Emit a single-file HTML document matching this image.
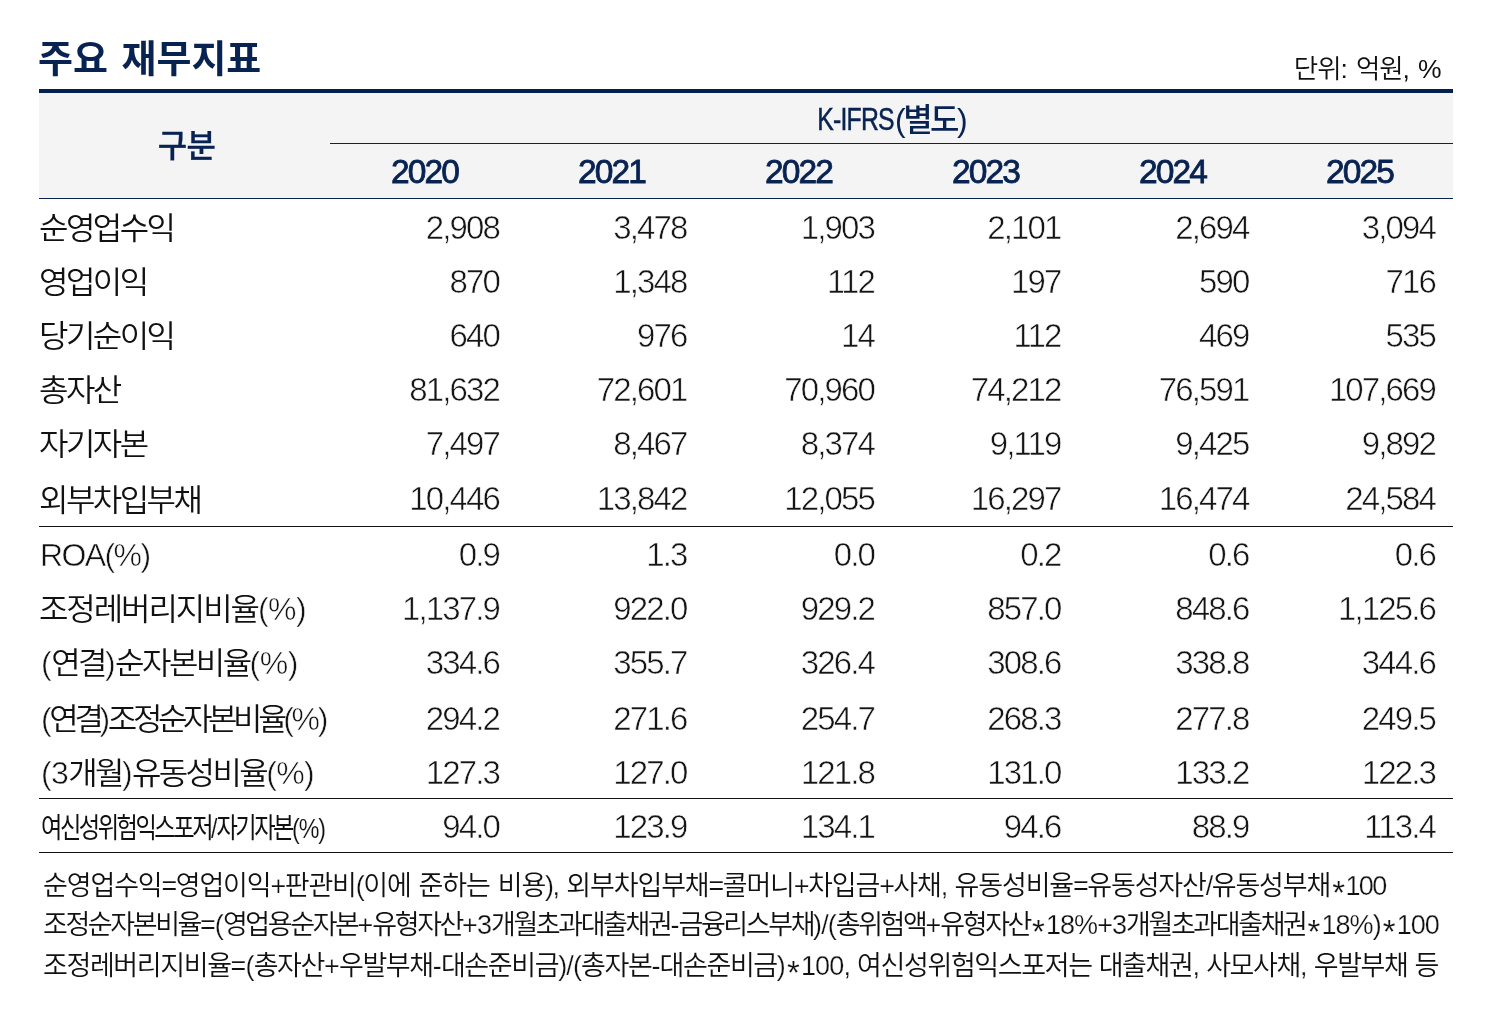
<!DOCTYPE html>
<html lang="ko">
<head>
<meta charset="utf-8">
<title>주요 재무지표</title>
<style>
html,body{margin:0;padding:0;background:#fff;}
body{width:1494px;height:1012px;position:relative;overflow:hidden;font-family:"Liberation Sans","Noto Sans CJK KR",sans-serif;color:#111;}
.title{position:absolute;left:38px;top:31px;font-size:38px;font-weight:700;color:#082252;line-height:56px;white-space:nowrap;letter-spacing:0;word-spacing:3px;}
.unit{position:absolute;right:53.5px;top:50px;font-size:26.5px;font-weight:350;color:#111;line-height:38px;white-space:nowrap;letter-spacing:-1.1px;word-spacing:3px;}
.topbar{position:absolute;left:39px;top:89px;width:1414px;height:4px;background:#04204f;}
.head{position:absolute;left:39px;top:93px;width:1414px;height:105px;background:#f4f4f4;}
.hline{position:absolute;left:330px;top:143px;width:1123px;height:1px;background:#082252;}
.hbot{position:absolute;left:39px;top:198px;width:1414px;height:1px;background:#082252;}
.gubun{position:absolute;left:41px;top:94px;width:291px;height:105px;line-height:105px;text-align:center;font-size:32px;font-weight:500;color:#082252;letter-spacing:-0.8px;-webkit-text-stroke:0.3px #082252;}
.kifrs{position:absolute;left:0;top:95px;width:1494px;height:48px;line-height:48px;font-size:32px;font-weight:500;color:#082252;white-space:nowrap;}
.kl{position:absolute;right:600px;top:0;transform:scaleX(0.775);transform-origin:100% 50%;letter-spacing:-1px;-webkit-text-stroke:0.5px #082252;}
.kh{position:absolute;left:895px;top:0.5px;letter-spacing:-2.5px;}
.kh i{font-style:normal;font-weight:400;}
.yr{position:absolute;top:146px;height:52px;line-height:52px;width:187px;text-align:center;font-size:33.5px;font-weight:400;color:#082252;-webkit-text-stroke:0.8px #082252;letter-spacing:-1.9px;}
.row{position:absolute;left:39px;width:1413px;height:54px;line-height:54px;font-size:32px;font-weight:350;white-space:nowrap;}
.row .l{position:absolute;left:1px;top:0;letter-spacing:-2.6px;font-size:30.5px;transform:scaleX(1.05);transform-origin:0 50%;}
.row .l i{font-style:normal;-webkit-text-stroke:0.5px #fff;}
.note i{font-style:normal;-webkit-text-stroke:0.25px #fff;}
.note b{font-weight:inherit;font-size:33px;line-height:0;position:relative;top:9px;margin:0 2px;-webkit-text-stroke:0.2px #fff;}
.r7 i{letter-spacing:-1.55px;}.r8 i{letter-spacing:-0.5px;}.r9 i{letter-spacing:-0.5px;}.r10 i{letter-spacing:-2.2px;}.r11 i{letter-spacing:-0.6px;}.r12 i{letter-spacing:-1.3px;}.n1 i{letter-spacing:-1.64px;}.n2 i{letter-spacing:-0.94px;}.n3 i{letter-spacing:-0.86px;}
.row .r12{font-weight:400;}
.row .r12 i{-webkit-text-stroke:0.15px #fff;}
.row .v{position:absolute;top:0;text-align:right;width:150px;letter-spacing:-1.9px;font-size:33px;color:#151515;-webkit-text-stroke:0.55px #fff;margin-left:-1.6px;}
.sep{position:absolute;left:39px;width:1414px;height:1px;background:#111;}
.note{position:absolute;left:43px;font-size:27px;font-weight:350;line-height:40px;white-space:nowrap;letter-spacing:-2.2px;word-spacing:3px;}
</style>
</head>
<body>
<div class="title">주요 재무지표</div>
<div class="unit">단위: 억원, %</div>
<div class="topbar"></div>
<div class="head"></div>
<div class="hline"></div>
<div class="hbot"></div>
<div class="gubun">구분</div>
<div class="kifrs"><span class="kl">K-IFRS</span><span class="kh"><i>(</i>별도<i>)</i></span></div>
<div class="yr" style="left:331px">2020</div>
<div class="yr" style="left:518px">2021</div>
<div class="yr" style="left:705px">2022</div>
<div class="yr" style="left:892px">2023</div>
<div class="yr" style="left:1079px">2024</div>
<div class="yr" style="left:1266px">2025</div>
<div class="row" style="top:201px"><span class="l r1" style="left:-0.5px;letter-spacing:-2.45px;">순영업수익</span><span class="v" style="left:311.5px">2,908</span><span class="v" style="left:499px">3,478</span><span class="v" style="left:686.5px">1,903</span><span class="v" style="left:873px">2,101</span><span class="v" style="left:1061px">2,694</span><span class="v" style="left:1247.5px">3,094</span></div>
<div class="row" style="top:255px"><span class="l r2" style="left:-0.5px;letter-spacing:-2.45px;">영업이익</span><span class="v" style="left:311.5px">870</span><span class="v" style="left:499px">1,348</span><span class="v" style="left:686.5px">112</span><span class="v" style="left:873px">197</span><span class="v" style="left:1061px">590</span><span class="v" style="left:1247.5px">716</span></div>
<div class="row" style="top:309px"><span class="l r3" style="left:-0.5px;letter-spacing:-2.45px;">당기순이익</span><span class="v" style="left:311.5px">640</span><span class="v" style="left:499px">976</span><span class="v" style="left:686.5px">14</span><span class="v" style="left:873px">112</span><span class="v" style="left:1061px">469</span><span class="v" style="left:1247.5px">535</span></div>
<div class="row" style="top:363px"><span class="l r4" style="left:-0.5px;letter-spacing:-2.45px;">총자산</span><span class="v" style="left:311.5px">81,632</span><span class="v" style="left:499px">72,601</span><span class="v" style="left:686.5px">70,960</span><span class="v" style="left:873px">74,212</span><span class="v" style="left:1061px">76,591</span><span class="v" style="left:1247.5px">107,669</span></div>
<div class="row" style="top:417px"><span class="l r5" style="left:-0.5px;letter-spacing:-2.45px;">자기자본</span><span class="v" style="left:311.5px">7,497</span><span class="v" style="left:499px">8,467</span><span class="v" style="left:686.5px">8,374</span><span class="v" style="left:873px">9,119</span><span class="v" style="left:1061px">9,425</span><span class="v" style="left:1247.5px">9,892</span></div>
<div class="row" style="top:473px"><span class="l r6" style="left:-0.5px;letter-spacing:-2.45px;">외부차입부채</span><span class="v" style="left:311.5px;top:-1px">10,446</span><span class="v" style="left:499px;top:-1px">13,842</span><span class="v" style="left:686.5px;top:-1px">12,055</span><span class="v" style="left:873px;top:-1px">16,297</span><span class="v" style="left:1061px;top:-1px">16,474</span><span class="v" style="left:1247.5px;top:-1px">24,584</span></div>
<div class="row" style="top:528px"><span class="l r7" style="left:0.5px;letter-spacing:-2.5px;"><i>ROA(%)</i></span><span class="v" style="left:311.5px">0.9</span><span class="v" style="left:499px">1.3</span><span class="v" style="left:686.5px">0.0</span><span class="v" style="left:873px">0.2</span><span class="v" style="left:1061px">0.6</span><span class="v" style="left:1247.5px">0.6</span></div>
<div class="row" style="top:582px"><span class="l r8" style="left:-0.5px;letter-spacing:-2.0px;">조정레버리지비율<i>(%)</i></span><span class="v" style="left:311.5px">1,137.9</span><span class="v" style="left:499px">922.0</span><span class="v" style="left:686.5px">929.2</span><span class="v" style="left:873px">857.0</span><span class="v" style="left:1061px">848.6</span><span class="v" style="left:1247.5px">1,125.6</span></div>
<div class="row" style="top:636px"><span class="l r9" style="left:1.5px;letter-spacing:-2.45px;"><i>(</i>연결<i>)</i>순자본비율<i>(%)</i></span><span class="v" style="left:311.5px">334.6</span><span class="v" style="left:499px">355.7</span><span class="v" style="left:686.5px">326.4</span><span class="v" style="left:873px">308.6</span><span class="v" style="left:1061px">338.8</span><span class="v" style="left:1247.5px">344.6</span></div>
<div class="row" style="top:692px"><span class="l r10" style="left:1.5px;letter-spacing:-4.2px;"><i>(</i>연결<i>)</i>조정순자본비율<i>(%)</i></span><span class="v" style="left:311.5px">294.2</span><span class="v" style="left:499px">271.6</span><span class="v" style="left:686.5px">254.7</span><span class="v" style="left:873px">268.3</span><span class="v" style="left:1061px">277.8</span><span class="v" style="left:1247.5px">249.5</span></div>
<div class="row" style="top:746px"><span class="l r11" style="left:1.5px;letter-spacing:-2.5px;"><i>(3</i>개월<i>)</i>유동성비율<i>(%)</i></span><span class="v" style="left:311.5px">127.3</span><span class="v" style="left:499px">127.0</span><span class="v" style="left:686.5px">121.8</span><span class="v" style="left:873px">131.0</span><span class="v" style="left:1061px">133.2</span><span class="v" style="left:1247.5px">122.3</span></div>
<div class="row" style="top:800px"><span class="l r12" style="left:1.5px;letter-spacing:-3.0px;font-size:28px;transform:scaleX(0.83);top:1.5px;">여신성위험익스포저<i>/</i>자기자본<i>(%)</i></span><span class="v" style="left:311.5px">94.0</span><span class="v" style="left:499px">123.9</span><span class="v" style="left:686.5px">134.1</span><span class="v" style="left:873px">94.6</span><span class="v" style="left:1061px">88.9</span><span class="v" style="left:1247.5px">113.4</span></div>
<div class="sep" style="top:526px"></div>
<div class="sep" style="top:798px"></div>
<div class="sep" style="top:852px"></div>
<div class="note n1" style="top:866px;left:43px;letter-spacing:-1.13px;word-spacing:1.6px">순영업수익<i>=</i>영업이익<i>+</i>판관비<i>(</i>이에 준하는 비용<i>),</i> 외부차입부채<i>=</i>콜머니<i>+</i>차입금<i>+</i>사채<i>,</i> 유동성비율<i>=</i>유동성자산<i>/</i>유동성부채<i><b>*</b>100</i></div>
<div class="note n2" style="top:905px;left:43px;letter-spacing:-2.41px;word-spacing:0.0px">조정순자본비율<i>=(</i>영업용순자본<i>+</i>유형자산<i>+3</i>개월초과대출채권<i>-</i>금융리스부채<i>)/(</i>총위험액<i>+</i>유형자산<i><b>*</b>18%+3</i>개월초과대출채권<i><b>*</b>18%)<b>*</b>100</i></div>
<div class="note n3" style="top:945.5px;left:43px;letter-spacing:-1.39px;word-spacing:0.94px">조정레버리지비율<i>=(</i>총자산<i>+</i>우발부채<i>-</i>대손준비금<i>)/(</i>총자본<i>-</i>대손준비금<i>)<b>*</b>100,</i> 여신성위험익스포저는 대출채권<i>,</i> 사모사채<i>,</i> 우발부채 등</div>
</body>
</html>
